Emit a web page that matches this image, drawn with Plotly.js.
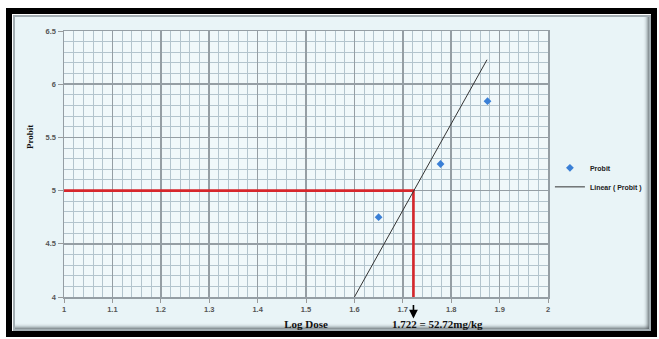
<!DOCTYPE html>
<html><head><meta charset="utf-8">
<script src="https://cdn.plot.ly/plotly-3.0.1.min.js"></script>
<style>
html,body{margin:0;padding:0;background:#fff;}
#wrap{position:relative;width:659px;height:339px;overflow:hidden;background:#fff;}
#frame{position:absolute;left:6px;top:8px;width:651px;height:329px;box-sizing:border-box;border:6px solid #000;background:#e9f4f7;}
#inner{position:absolute;left:0;top:0;right:0;bottom:0;border-top:1px solid #fff;border-left:1px solid #fff;box-shadow:inset 0 0 0 2px #a3aeb3, inset -3px -3px 4px #4a5358;}
#chart{position:absolute;left:0;top:0;width:659px;height:339px;}
</style></head>
<body>
<div id="wrap"><div id="frame"><div id="inner"></div></div><div id="chart"></div></div>
<script>
// Observed data points (probit vs log dose)
const logDose = [1.65, 1.778, 1.875];
const probit = [4.75, 5.25, 5.84];
// Linear (Probit) line end points
const lineLogDose = [1.6, 1.874];
const lineProbit = [4.0, 6.23];
// LD50 read-off
const targetProbit = 5;
const ld50LogDose = 1.722;
const ld50Label = '1.722 = 52.72mg/kg';
// Axes
const xRange = [1, 2];
const yRange = [4, 6.5];
const xTickVals = [1, 1.1, 1.2, 1.3, 1.4, 1.5, 1.6, 1.7, 1.8, 1.9, 2];
const xTickText = ['1', '1.1', '1.2', '1.3', '1.4', '1.5', '1.6', '1.7', '1.8', '1.9', '2'];
const yTickVals = [4, 4.5, 5, 5.5, 6, 6.5];
const yTickText = ['4', '4.5', '5', '5.5', '6', '6.5'];

const tickFont = {family: 'Liberation Sans, Arial, sans-serif', size: 7.5, color: '#555', weight: 'bold'};
const serifBold = {family: 'Liberation Serif, Times New Roman, serif', color: '#111', weight: 'bold'};

const traces = [
  {x: [xRange[0], ld50LogDose, ld50LogDose], y: [targetProbit, targetProbit, yRange[0]],
   mode: 'lines', line: {color: '#d6262b', width: 2.6}, showlegend: false, hoverinfo: 'skip'},
  {x: logDose, y: probit, mode: 'markers', name: 'Probit',
   marker: {symbol: 'diamond', size: 6, color: '#3a7fd6'}},
  {x: lineLogDose, y: lineProbit, mode: 'lines', name: 'Linear ( Probit )',
   line: {color: '#333', width: 1}}
];

const gridMinor = '#b3c4cd';
const gridMajor = '#959ea4';

const layout = {
  width: 659, height: 339,
  margin: {l: 64, r: 109, t: 31, b: 42},
  paper_bgcolor: 'rgba(0,0,0,0)',
  plot_bgcolor: '#f0f8fa',
  showlegend: true,
  legend: {x: 1.004, xanchor: 'left', y: 0.54, yanchor: 'top', bgcolor: 'rgba(0,0,0,0)',
           font: {family: 'Liberation Sans, Arial, sans-serif', size: 7, color: '#222', weight: 'bold'}},
  xaxis: {range: xRange, tickvals: xTickVals, ticktext: xTickText, tickfont: tickFont,
          showgrid: true, gridcolor: gridMajor, gridwidth: 1.5,
          minor: {dtick: 0.02, showgrid: true, gridcolor: gridMinor, gridwidth: 1},
          showline: true, linecolor: gridMajor, linewidth: 1.5, mirror: true,
          ticks: 'outside', ticklen: 4, tickcolor: '#999', zeroline: false,
          title: {text: 'Log Dose', font: Object.assign({size: 11}, serifBold), standoff: 8}},
  yaxis: {range: yRange, tickvals: yTickVals, ticktext: yTickText, tickfont: tickFont,
          showgrid: true, gridcolor: gridMajor, gridwidth: 1.5,
          minor: {dtick: 0.1, showgrid: true, gridcolor: gridMinor, gridwidth: 1},
          showline: true, linecolor: gridMajor, linewidth: 1.5, mirror: true,
          ticks: 'outside', ticklen: 5, tickcolor: '#999', zeroline: false},
  annotations: [
    {text: 'Probit', xref: 'paper', yref: 'paper', x: -0.07, y: 0.602, textangle: -90,
     xanchor: 'center', yanchor: 'middle', showarrow: false, font: Object.assign({size: 9}, serifBold)},
    {text: '', xref: 'x', yref: 'paper', x: ld50LogDose, y: -0.081, ax: 0, ay: -15,
     showarrow: true, arrowhead: 2, arrowsize: 1.1, arrowwidth: 1.6, arrowcolor: '#000'},
    {text: ld50Label, xref: 'paper', yref: 'paper', x: 0.772, y: -0.1, xanchor: 'center', yanchor: 'middle',
     showarrow: false, font: Object.assign({size: 11}, serifBold)}
  ]
};

Plotly.newPlot('chart', traces, layout, {displayModeBar: false, staticPlot: true});
</script>
</body></html>
